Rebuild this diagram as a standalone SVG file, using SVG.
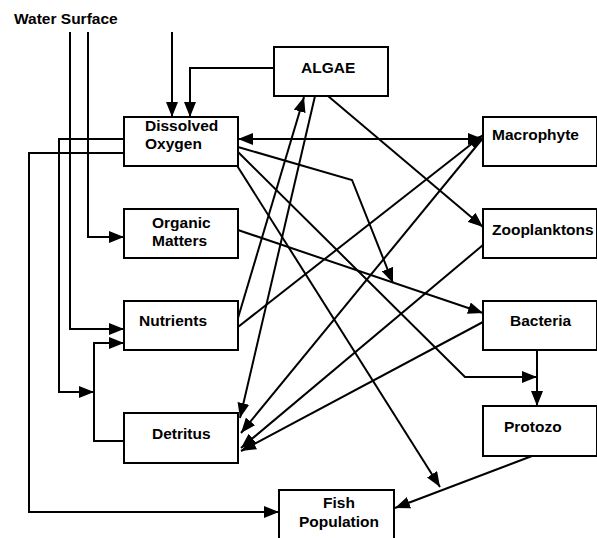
<svg xmlns="http://www.w3.org/2000/svg" width="597" height="538" viewBox="0 0 597 538">
<style>
.box{fill:#fff;stroke:#000;stroke-width:2}
.t{font-family:"Liberation Sans",Arial,sans-serif;font-weight:bold;font-size:15.5px;fill:#000}
.c{fill:none;stroke:#000;stroke-width:2}
.a{marker-end:url(#ah)}
</style>
<defs>
<marker id="ah" markerUnits="userSpaceOnUse" markerWidth="16" markerHeight="12" refX="15" refY="6" orient="auto-start-reverse">
<path d="M0,0 L15,6 L0,12 z" fill="#000"/>
</marker>
</defs>
<text class="t" x="14" y="24">Water Surface</text>
<g id="connectors">
<path class="c a" d="M70,32 V329 H124"/>
<path class="c a" d="M88,32 V237 H124"/>
<path class="c a" d="M172,32 V117"/>
<path class="c a" d="M274,68 H190 V117"/>
<path class="c a" d="M124,139 H59 V392 H94"/>
<path class="c a" d="M124,153 H29 V512 H279"/>
<path class="c a" d="M124,441 H94 V343 H124"/>
<path class="c a" d="M238,139 H483" marker-start="url(#ah)"/>
<path class="c a" d="M238,147 L352,180 L393,283"/>
<path class="c a" d="M238,152 L465,377 H537"/>
<path class="c a" d="M236,164 L440,487"/>
<path class="c a" d="M238,318 L304,97"/>
<path class="c a" d="M238,327 L483,135"/>
<path class="c a" d="M315,96 L240,418"/>
<path class="c a" d="M328,96 L483,227"/>
<path class="c a" d="M483,138 L241,433"/>
<path class="c a" d="M483,245 L241,448"/>
<path class="c a" d="M483,322 L241,451"/>
<path class="c a" d="M238,230 L483,313"/>
<path class="c a" d="M537,350 V406"/>
<path class="c a" d="M532,456 L395,508"/>
</g>
<g id="algae"><rect class="box" x="274" y="47" width="114" height="49"/><text class="t" x="301" y="73">ALGAE</text></g>
<g id="dissolved-oxygen"><rect class="box" x="124" y="117" width="114" height="49"/><text class="t" x="145" y="131">Dissolved</text><text class="t" x="145" y="149">Oxygen</text></g>
<g id="macrophyte"><rect class="box" x="483" y="117" width="114" height="49"/><text class="t" x="492" y="140">Macrophyte</text></g>
<g id="organic-matters"><rect class="box" x="124" y="209" width="114" height="49"/><text class="t" x="152" y="228">Organic</text><text class="t" x="152" y="246">Matters</text></g>
<g id="zooplanktons"><rect class="box" x="483" y="209" width="114" height="49"/><text class="t" x="492" y="235">Zooplanktons</text></g>
<g id="nutrients"><rect class="box" x="124" y="301" width="114" height="49"/><text class="t" x="139" y="326">Nutrients</text></g>
<g id="bacteria"><rect class="box" x="483" y="301" width="114" height="49"/><text class="t" x="510" y="326">Bacteria</text></g>
<g id="protozo"><rect class="box" x="483" y="406" width="114" height="50"/><text class="t" x="504" y="432">Protozo</text></g>
<g id="detritus"><rect class="box" x="124" y="413" width="114" height="50"/><text class="t" x="152" y="439">Detritus</text></g>
<g id="fish-population"><rect class="box" x="279" y="490" width="115" height="60"/><text class="t" x="339" y="508" text-anchor="middle">Fish</text><text class="t" x="339" y="527" text-anchor="middle">Population</text></g>
</svg>
